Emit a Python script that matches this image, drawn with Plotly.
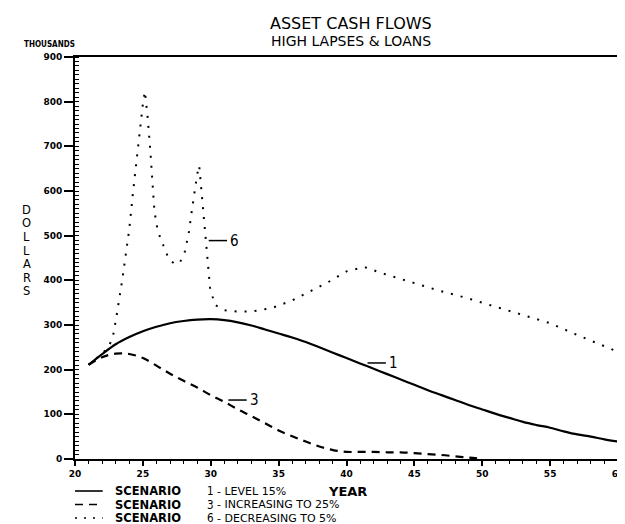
import plotly.graph_objects as go

# ---------------- data ----------------
years_1 = list(range(21, 61))
values_1 = [211, 235, 257, 273, 286, 296, 304, 309, 312, 313, 311, 306, 299, 290, 281,
            272, 262, 250, 238, 226, 214, 202, 190, 178, 166, 154, 143, 132, 121, 111,
            101, 92, 83, 76, 70, 62, 55, 50, 44, 39]

years_3 = list(range(21, 51))
values_3 = [211, 228, 236, 235, 226, 209, 191, 175, 160, 143, 128, 111, 96, 80, 64,
            51, 39, 28, 20, 16, 16, 16, 15, 15, 13, 11, 9, 6, 3, 1]

years_6 = [21, 21.5, 22, 22.5, 22.8, 23.05, 23.3, 23.5, 23.75, 24.0, 24.25, 24.5, 24.75,
           25.0, 25.15, 25.35, 25.55, 25.7, 25.85, 26.1, 26.4, 26.9, 27.3, 27.7, 28.1,
           28.4, 28.6, 28.8, 29.0, 29.15, 29.3, 29.45, 29.65, 29.8, 29.95, 30.3, 31.0,
           32.0, 33.0, 34.5, 36.0, 37.3, 38.6, 40.0, 41.3, 42.6, 44.6, 46.7, 48.9, 50.9,
           53.0, 55.0, 57.2, 60.0]
values_6 = [211, 223, 236, 252, 275, 318, 365, 405, 460, 515, 590, 660, 730,
            795, 823, 765, 690, 620, 555, 510, 485, 448, 438, 438, 465,
            510, 555, 600, 637, 657, 608, 548, 490, 428, 383, 345, 333,
            330, 330, 338, 355, 375, 395, 420, 430, 416, 398, 378, 360, 342,
            322, 304, 275, 240]

x_ticks = [20, 25, 30, 35, 40, 45, 50, 55, 60]
y_ticks = [0, 100, 200, 300, 400, 500, 600, 700, 800, 900]

legend_labels = ["LEVEL 15%", "INCREASING TO 25%", "DECREASING TO 5%"]
legend_numbers = ["1", "3", "6"]
legend_dashes = ["solid", "8px,6px", "2px,7px"]

# curve label anchors (year, value)
curve_tags = [("6", 29.85, 489), ("1", 41.55, 215), ("3", 31.3, 132)]

COND = "DejaVu Sans Condensed, Liberation Sans Narrow, DejaVu Sans"
SANS = "DejaVu Sans, Liberation Sans"

fig = go.Figure()
fig.add_trace(go.Scatter(x=years_1, y=values_1, mode="lines", line=dict(color="black", width=2.2, shape="spline"), showlegend=False))
fig.add_trace(go.Scatter(x=years_3, y=values_3, mode="lines", line=dict(color="black", width=2.2, dash="8px,6px", shape="spline"), showlegend=False))
fig.add_trace(go.Scatter(x=years_6, y=values_6, mode="lines", line=dict(color="black", width=2, dash="2px,8px"), showlegend=False))

W, H = 625, 524
L, R, T, B = 67, 9, 49, 73
pw, ph = W - L - R, H - T - B

def px(xp):
    return (xp - L) / pw

def py(yp):
    return (H - B - yp) / ph

shapes = []
annotations = []

# curve tags
for num, xv, yv in curve_tags:
    shapes.append(dict(type="line", xref="x", yref="y", x0=xv, x1=xv + 1.35, y0=yv, y1=yv,
                       line=dict(color="black", width=1.5)))
    annotations.append(dict(x=xv + 1.45, y=yv, xref="x", yref="y", text=num, showarrow=False,
                            xanchor="left", yanchor="middle",
                            font=dict(family=COND, size=15, color="black")))

# titles
annotations.append(dict(x=px(346), y=py(15), xref="paper", yref="paper", text="ASSET CASH FLOWS",
                        showarrow=False, xanchor="center", yanchor="middle",
                        font=dict(family=SANS, size=16, color="black")))
annotations.append(dict(x=px(346), y=py(33), xref="paper", yref="paper", text="HIGH LAPSES &amp; LOANS",
                        showarrow=False, xanchor="center", yanchor="middle",
                        font=dict(family=SANS, size=14, color="black")))
annotations.append(dict(x=px(41), y=py(37), xref="paper", yref="paper", text="THOUSANDS",
                        showarrow=False, xanchor="center", yanchor="middle",
                        font=dict(family=COND, size=8, color="black", weight="bold")))

# DOLLARS stacked
for i, ch in enumerate("DOLLARS"):
    annotations.append(dict(x=px(18), y=py(201.7 + i * 13.6), xref="paper", yref="paper", text=ch,
                            showarrow=False, xanchor="center", yanchor="middle", borderpad=0,
                            font=dict(family=SANS, size=11.5, color="black")))

# YEAR
annotations.append(dict(x=px(343), y=py(483), xref="paper", yref="paper", text="YEAR",
                        showarrow=False, xanchor="center", yanchor="middle",
                        font=dict(family=SANS, size=13, color="black", weight="bold")))

# custom legend
row_y = [483, 496.5, 510]
for i in range(3):
    yy = py(row_y[i])
    shapes.append(dict(type="line", xref="paper", yref="paper", x0=px(67), x1=px(95), y0=yy, y1=yy,
                       line=dict(color="black", width=1.6, dash=legend_dashes[i])))
    annotations.append(dict(x=px(106), y=yy, xref="paper", yref="paper", text="SCENARIO",
                            showarrow=False, xanchor="left", yanchor="middle", borderpad=0,
                            font=dict(family=SANS, size=11.5, color="black", weight="bold")))
    annotations.append(dict(x=px(199), y=yy, xref="paper", yref="paper", text=legend_numbers[i],
                            showarrow=False, xanchor="left", yanchor="middle", borderpad=0,
                            font=dict(family=COND, size=11.5, color="black")))
    annotations.append(dict(x=px(210), y=yy, xref="paper", yref="paper", text="- " + legend_labels[i],
                            showarrow=False, xanchor="left", yanchor="middle", borderpad=0,
                            font=dict(family=SANS, size=11, color="black")))

fig.update_layout(
    width=W, height=H,
    margin=dict(l=L, r=R, t=T, b=B),
    paper_bgcolor="white", plot_bgcolor="white",
    shapes=shapes, annotations=annotations,
    xaxis=dict(range=[20, 60], tickvals=x_ticks, ticktext=[str(v) for v in x_ticks],
               showgrid=False, zeroline=False, showline=True, linecolor="black", linewidth=1.8,
               mirror=True, ticks="outside", ticklen=5, tickwidth=1.5, tickcolor="black",
               tickfont=dict(family=SANS, size=9, color="black", weight="bold"),
               minor=dict(dtick=1, ticks="outside", ticklen=3, tickwidth=1.2, tickcolor="black")),
    yaxis=dict(range=[0, 900], tickvals=y_ticks, ticktext=[str(v) for v in y_ticks],
               showgrid=False, zeroline=False, showline=True, linecolor="black", linewidth=1.8,
               mirror=True, ticks="outside", ticklen=9, tickwidth=1.5, tickcolor="black",
               tickfont=dict(family=SANS, size=9, color="black", weight="bold"),
               minor=dict(dtick=10, ticks="inside", ticklen=4, tickwidth=1, tickcolor="black")),
)

fig.write_html("out.html")
